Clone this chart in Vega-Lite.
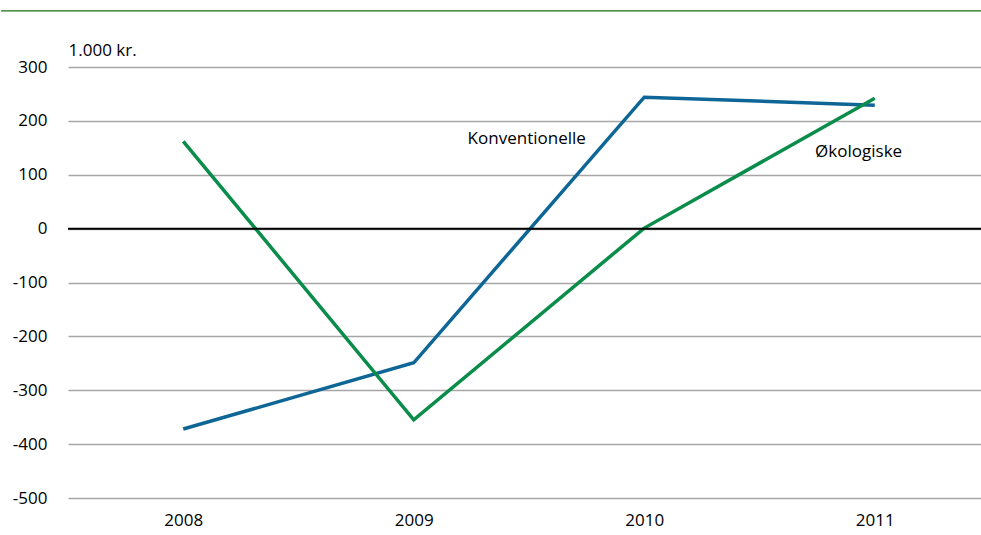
{
  "$schema": "https://vega.github.io/schema/vega-lite/v6.json",
  "autosize": "none",
  "width": 922,
  "height": 431,
  "padding": {"left": 68, "top": 67, "right": 0, "bottom": 37},
  "background": "white",
  "config": {
    "view": {"stroke": null},
    "font": "Open Sans",
    "axis": {"labelFont": "Open Sans", "labelFontSize": 17, "labelColor": "#000000", "titleFont": "Open Sans"}
  },
  "datasets": {
    "lines": [
      {"year": 2008, "value": -372, "series": "Konventionelle"},
      {"year": 2009, "value": -249, "series": "Konventionelle"},
      {"year": 2010, "value": 244, "series": "Konventionelle"},
      {"year": 2011, "value": 229, "series": "Konventionelle"},
      {"year": 2008, "value": 162, "series": "Økologiske"},
      {"year": 2009, "value": -355, "series": "Økologiske"},
      {"year": 2010, "value": 1, "series": "Økologiske"},
      {"year": 2011, "value": 242, "series": "Økologiske"}
    ],
    "labels": [
      {"year": 2009.49, "value": 166, "label": "Konventionelle"},
      {"year": 2010.93, "value": 142, "label": "Økologiske"}
    ],
    "rules": [
      {"name": "zero", "value": 0},
      {"name": "top", "value": 404, "start": 2007.21, "end": 2011.5}
    ]
  },
  "layer": [
    {
      "data": {"name": "lines"},
      "mark": {"type": "line", "strokeWidth": 3.5, "clip": false},
      "encoding": {
        "x": {
          "field": "year", "type": "quantitative",
          "scale": {"domain": [2007.5, 2011.5], "nice": false, "zero": false},
          "axis": {"values": [2008, 2009, 2010, 2011], "format": "d", "grid": false, "domain": false, "ticks": false, "labelPadding": 14, "title": null}
        },
        "y": {
          "field": "value", "type": "quantitative",
          "scale": {"domain": [-500, 300], "nice": false},
          "axis": {
            "values": [-500, -400, -300, -200, -100, 0, 100, 200, 300],
            "labelExpr": "'' + datum.value",
            "grid": true, "gridColor": "#a6a6a6", "gridWidth": 1.5,
            "domain": false, "ticks": false, "labelPadding": 21,
            "title": "1.000 kr.", "titleAngle": 0, "titleAlign": "left", "titleBaseline": "bottom",
            "titleX": 0, "titleY": -8, "titleFontSize": 17, "titleFontWeight": "normal", "titleColor": "#000000"
          }
        },
        "color": {
          "field": "series", "type": "nominal",
          "scale": {"domain": ["Konventionelle", "Økologiske"], "range": ["#0e6697", "#0a8c4a"]},
          "legend": null
        }
      }
    },
    {
      "data": {"name": "labels"},
      "mark": {"type": "text", "fontSize": 17, "color": "#000000", "align": "center", "baseline": "middle"},
      "encoding": {
        "x": {"field": "year", "type": "quantitative"},
        "y": {"field": "value", "type": "quantitative"},
        "text": {"field": "label"}
      }
    },
    {
      "data": {"name": "rules"},
      "transform": [{"filter": "datum.name === 'zero'"}],
      "mark": {"type": "rule", "color": "#000000", "strokeWidth": 2},
      "encoding": {"y": {"field": "value", "type": "quantitative"}}
    },
    {
      "data": {"name": "rules"},
      "transform": [{"filter": "datum.name === 'top'"}],
      "mark": {"type": "rule", "color": "#1a6e1a", "strokeWidth": 1.2, "clip": false},
      "encoding": {
        "y": {"field": "value", "type": "quantitative"},
        "x": {"field": "start", "type": "quantitative"},
        "x2": {"field": "end"}
      }
    }
  ]
}
